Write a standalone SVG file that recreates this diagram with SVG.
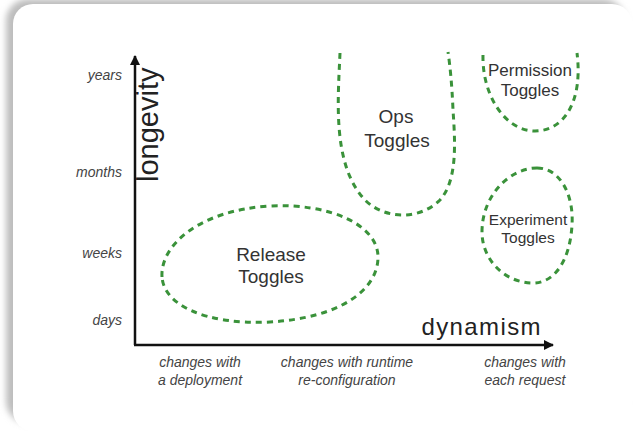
<svg xmlns="http://www.w3.org/2000/svg" width="635" height="434" viewBox="0 0 635 434">
<style>
.tog{fill:none;stroke:#3a923a;stroke-width:3;stroke-dasharray:6 5;stroke-linecap:butt}
.ax{stroke:#111;stroke-width:2.5;fill:none}
.tick{font-family:"Liberation Sans",Arial,sans-serif;font-style:italic;font-size:14px;fill:#444}
.lbl{font-family:"Liberation Sans",Arial,sans-serif;fill:#333;text-anchor:middle}
.ttl{font-family:"Liberation Sans",Arial,sans-serif;fill:#222}
</style>
<defs>
<filter id="sh" x="-10%" y="-10%" width="120%" height="120%"><feGaussianBlur stdDeviation="3"/></filter>
<marker id="ah" viewBox="0 0 10 10" refX="9" refY="5" markerWidth="4.4" markerHeight="4" orient="auto" markerUnits="strokeWidth"><path d="M0,0 L10,5 L0,10 Z" fill="#111"/></marker>
</defs>
<rect width="635" height="434" fill="#fff"/>
<rect x="6" y="-1" width="619" height="424" rx="22" fill="#bdbdbd" filter="url(#sh)"/>
<rect x="13" y="4" width="619" height="427" rx="20" fill="#fff"/>
<g id="axes">
<path class="ax" d="M135,345 L135,56" marker-end="url(#ah)"/>
<path class="ax" d="M134,345 L553,345" marker-end="url(#ah)"/>
<text class="ttl" font-size="29" transform="translate(158,182) rotate(-90)">longevity</text>
<text class="ttl" font-size="24" letter-spacing="1.4" x="542" y="335" text-anchor="end">dynamism</text>
<text class="tick" x="122" y="80" text-anchor="end">years</text>
<text class="tick" x="122" y="177" text-anchor="end">months</text>
<text class="tick" x="122" y="258" text-anchor="end">weeks</text>
<text class="tick" x="122" y="325" text-anchor="end">days</text>
<text class="tick" x="200" y="367" text-anchor="middle">changes with</text>
<text class="tick" x="200" y="385" text-anchor="middle">a deployment</text>
<text class="tick" x="347" y="367" text-anchor="middle">changes with runtime</text>
<text class="tick" x="347" y="385" text-anchor="middle">re-configuration</text>
<text class="tick" x="525" y="367" text-anchor="middle">changes with</text>
<text class="tick" x="525" y="385" text-anchor="middle">each request</text>
</g>
<g id="release">
<path class="tog" d="M162,277 C160,245 200,210 270,206 C330,203 378,225 378,257 C378,290 340,318 270,322 C205,325 164,305 162,277 Z"/>
<text class="lbl" font-size="19" x="271" y="261">Release</text>
<text class="lbl" font-size="19" x="271" y="283">Toggles</text>
</g>
<g id="ops">
<path class="tog" d="M340,53 C338,100 332,165 365,200 C385,220 420,220 440,200 C458,180 455,140 453,110 C452,85 450,65 448,52"/>
<text class="lbl" font-size="19" x="396" y="123">Ops</text>
<text class="lbl" font-size="19" x="397" y="147">Toggles</text>
</g>
<g id="permission">
<path class="tog" d="M483,55 C482,95 505,131 535,131 C565,131 583,100 577,53"/>
<text class="lbl" font-size="17" x="530" y="76">Permission</text>
<text class="lbl" font-size="17" x="530" y="96">Toggles</text>
</g>
<g id="experiment">
<path class="tog" d="M537,168 C560,168 574,195 572,225 C570,260 555,283 533,283 C505,283 482,260 482,232 C482,195 510,168 537,168 Z"/>
<text class="lbl" font-size="15.5" x="528" y="225">Experiment</text>
<text class="lbl" font-size="15.5" x="528" y="243">Toggles</text>
</g>
</svg>
